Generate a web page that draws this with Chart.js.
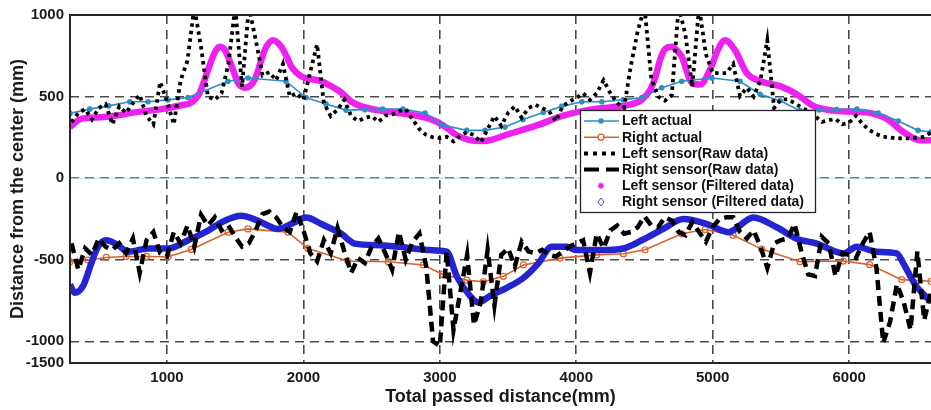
<!DOCTYPE html>
<html>
<head>
<meta charset="utf-8">
<title>Sensor distance</title>
<script src="https://cdn.jsdelivr.net/npm/chart.js@4.4.1/dist/chart.umd.min.js"></script>
<style>
  html, body { margin: 0; padding: 0; background: #fff; }
  canvas { display: block; }
</style>
</head>
<body>
<canvas id="sensorChart" width="931" height="410"></canvas>
<script>
// axis ranges and ticks
const xMin = 289, xMax = 6600;
const yMin = -1133, yMax = 1000;
const xTicks = [1000, 2000, 3000, 4000, 5000, 6000];
const yTicks = [-1133, -1000, -500, 0, 500, 1000];
const yTickLabels = ['-1500', '-1000', '-500', '0', '500', '1000'];

// measured wheel positions
const leftActualX = [289, 433, 573, 727, 861, 1007, 1154, 1447, 1594, 1872, 2019, 2165, 2312, 2450, 2581, 2730, 2891, 3023, 3197, 3331, 3478, 3610, 3757, 3893, 4040, 4187, 4343, 4480, 4626, 4773, 4993, 5200, 5347, 5494, 5640, 5780, 5909, 6056, 6212, 6360, 6505, 6600];
const leftActualY = [397, 423, 443, 468, 468, 480, 494, 594, 614, 594, 494, 455, 417, 420, 423, 423, 399, 325, 293, 293, 313, 359, 403, 440, 468, 468, 480, 494, 554, 594, 614, 594, 514, 474, 414, 418, 420, 423, 399, 350, 293, 283];

const rightActualX = [289, 421, 555, 700, 850, 1007, 1178, 1447, 1594, 1887, 2033, 2326, 2622, 2879, 3023, 3197, 3319, 3465, 3612, 3881, 4150, 4345, 4504, 4773, 4944, 5150, 5359, 5640, 5958, 6150, 6385, 6600];
const rightActualY = [-512, -502, -486, -480, -480, -482, -437, -331, -311, -331, -431, -508, -512, -532, -590, -625, -635, -602, -532, -490, -470, -463, -439, -341, -315, -350, -435, -512, -508, -530, -622, -632];

// raw sensor samples
const rawX = [
  300, 350, 400, 450, 500, 550, 600, 650, 700, 750,
  800, 850, 900, 950, 1000, 1050, 1100, 1150, 1200, 1250,
  1300, 1350, 1400, 1450, 1500, 1550, 1600, 1650, 1700, 1750,
  1800, 1850, 1900, 1950, 2000, 2050, 2100, 2150, 2200, 2250,
  2300, 2350, 2400, 2450, 2500, 2550, 2600, 2650, 2700, 2750,
  2800, 2850, 2900, 2950, 3000, 3050, 3100, 3150, 3200, 3250,
  3300, 3350, 3400, 3450, 3500, 3550, 3600, 3650, 3700, 3750,
  3800, 3850, 3900, 3950, 4000, 4050, 4100, 4150, 4200, 4250,
  4300, 4350, 4400, 4450, 4500, 4550, 4600, 4650, 4700, 4750,
  4800, 4850, 4900, 4950, 5000, 5050, 5100, 5150, 5200, 5250,
  5300, 5350, 5400, 5450, 5500, 5550, 5600, 5650, 5700, 5750,
  5800, 5850, 5900, 5950, 6000, 6050, 6100, 6150, 6200, 6250,
  6300, 6350, 6400, 6450, 6500, 6550, 6600
];
const leftRawY = [
  343, 400, 423, 360, 430, 453, 330, 440, 400, 460,
  510, 380, 330, 590, 470, 330, 600, 720, 1050, 800,
  500, 480, 520, 700, 1050, 560, 1050, 850, 630, 650,
  600, 700, 500, 520, 480, 650, 820, 460, 380, 420,
  480, 380, 350, 370, 380, 345, 383, 390, 410, 423,
  360, 300, 265, 250, 245, 253, 225, 260, 283, 263,
  220, 300, 380, 320, 400, 440, 370, 430, 450, 430,
  410, 350, 440, 470, 490, 520, 480, 520, 600, 520,
  460, 430, 690, 900, 1050, 610, 500, 475, 510, 1050,
  880, 560, 1050, 760, 644, 644, 644, 700, 503, 554,
  500, 600, 845, 430, 483, 483, 460, 433, 410, 380,
  345, 355, 363, 330, 340, 383, 330, 293, 270, 253,
  250, 243, 245, 243, 250, 253, 280
];
const rightRawY = [
  -400, -560, -430, -470, -370, -420, -440, -400, -460, -370,
  -580, -380, -330, -460, -480, -330, -400, -290, -420, -225,
  -290, -240, -320, -290, -360, -420, -400, -320, -220, -205,
  -240, -300, -330, -205, -320, -460, -510, -380, -460, -305,
  -450, -580, -490, -520, -420, -370, -460, -560, -330, -500,
  -390, -340, -540, -1000, -1030, -450, -930, -700, -470, -900,
  -760, -440, -780, -470, -430, -540, -390, -450, -460, -440,
  -470, -480, -450, -420, -400, -380, -580, -340, -430, -320,
  -290, -340, -330, -300, -235, -290, -300, -240, -260, -330,
  -350, -270, -330, -390, -300, -250, -240, -240, -330, -370,
  -320, -420, -550, -400, -380, -370, -280, -450, -590, -600,
  -360, -400, -600, -460, -470, -490, -400, -330, -550, -1010,
  -880, -650, -760, -930, -450, -870, -700
];

// filtered sensor output
const leftFiltX = [289, 370, 516, 640, 763, 958, 1105, 1178, 1240, 1301, 1350, 1386, 1420, 1447, 1490, 1520, 1570, 1643, 1690, 1716, 1777, 1838, 1880, 1911, 1984, 2131, 2200, 2278, 2350, 2415, 2562, 2757, 2928, 3025, 3124, 3221, 3319, 3514, 3710, 3905, 4125, 4370, 4480, 4541, 4580, 4614, 4650, 4700, 4740, 4773, 4846, 4907, 4980, 5040, 5090, 5163, 5249, 5347, 5494, 5616, 5738, 5885, 6000, 6129, 6276, 6397, 6520, 6600];
const leftFiltY = [313, 363, 373, 385, 403, 423, 447, 463, 524, 664, 770, 805, 790, 745, 650, 584, 554, 604, 720, 785, 845, 805, 740, 684, 624, 594, 565, 524, 470, 443, 414, 393, 363, 323, 263, 233, 227, 273, 323, 383, 423, 447, 480, 540, 620, 724, 790, 805, 780, 745, 584, 574, 664, 790, 845, 785, 644, 594, 564, 514, 443, 414, 408, 403, 363, 283, 233, 233];

const rightFiltX = [289, 323, 384, 445, 494, 555, 641, 714, 861, 1007, 1154, 1301, 1423, 1545, 1667, 1814, 1936, 2021, 2131, 2278, 2376, 2562, 2708, 2806, 2928, 3050, 3124, 3221, 3282, 3368, 3490, 3612, 3722, 3820, 3930, 4003, 4174, 4345, 4492, 4638, 4785, 4956, 5115, 5298, 5469, 5616, 5763, 5958, 6056, 6202, 6349, 6397, 6483, 6593];
const rightFiltY = [-652, -702, -662, -522, -421, -381, -411, -451, -431, -431, -381, -321, -261, -231, -261, -311, -271, -241, -281, -341, -401, -411, -421, -431, -441, -451, -602, -722, -762, -722, -672, -612, -522, -421, -421, -441, -441, -431, -376, -311, -251, -281, -331, -241, -301, -371, -401, -461, -421, -451, -461, -522, -652, -752];

// centre reference line
const centreX = [xMin, xMax];
const centreY = [0, 0];

function pairs(xs, ys) {
  return xs.map((x, i) => ({ x: x, y: ys[i] }));
}

Chart.defaults.font.family = "'Liberation Sans', Arial, sans-serif";
Chart.defaults.color = '#1a1a1a';

// black frame on left, top and bottom of the plot area
const framePlugin = {
  id: 'frame',
  afterDatasetsDraw(chart) {
    const { ctx, chartArea: a } = chart;
    ctx.save();
    ctx.strokeStyle = '#262626';
    ctx.lineWidth = 2;
    ctx.beginPath();
    ctx.moveTo(a.right + 2, a.top);
    ctx.lineTo(a.left, a.top);
    ctx.lineTo(a.left, a.bottom);
    ctx.lineTo(a.right + 2, a.bottom);
    ctx.stroke();
    ctx.restore();
  }
};

// boxed legend sitting inside the plot
const boxLegend = {
  id: 'boxLegend',
  afterDraw(chart) {
    const ctx = chart.ctx;
    const bx = 580.5, by = 110.5, bw = 235, bh = 102;
    ctx.save();
    ctx.fillStyle = '#fff';
    ctx.fillRect(bx, by, bw, bh);
    ctx.strokeStyle = '#262626';
    ctx.lineWidth = 1.3;
    ctx.strokeRect(bx, by, bw, bh);

    const items = chart.data.datasets.filter(d => d.legendKey);
    items.forEach((ds, i) => {
      const cy = 121 + i * 16.2;
      const x0 = 584, x1 = 619, xm = 601;
      ctx.save();
      if (ds.legendKey === 'line') {
        ctx.strokeStyle = ds.borderColor;
        ctx.lineWidth = ds.legendWidth;
        ctx.setLineDash(ds.legendDash || []);
        ctx.beginPath();
        ctx.moveTo(x0, cy);
        ctx.lineTo(x1, cy);
        ctx.stroke();
        ctx.setLineDash([]);
        if (ds.pointRadius > 0) {
          ctx.beginPath();
          ctx.arc(xm, cy, ds.pointRadius, 0, Math.PI * 2);
          if (ds.pointBackgroundColor !== 'rgba(0,0,0,0)') {
            ctx.fillStyle = ds.pointBackgroundColor;
            ctx.fill();
          } else {
            ctx.fillStyle = '#fff';
            ctx.fill();
            ctx.strokeStyle = ds.pointBorderColor;
            ctx.lineWidth = 1.3;
            ctx.stroke();
          }
        }
      } else if (ds.legendKey === 'star') {
        ctx.strokeStyle = ds.borderColor;
        ctx.lineWidth = 1.4;
        ctx.beginPath();
        for (let k = 0; k < 4; k++) {
          const ang = k * Math.PI / 4;
          ctx.moveTo(xm - Math.cos(ang) * 3.2, cy - Math.sin(ang) * 3.2);
          ctx.lineTo(xm + Math.cos(ang) * 3.2, cy + Math.sin(ang) * 3.2);
        }
        ctx.stroke();
      } else if (ds.legendKey === 'diamond') {
        ctx.strokeStyle = '#4a4acf';
        ctx.lineWidth = 1;
        ctx.beginPath();
        ctx.moveTo(xm, cy - 4);
        ctx.lineTo(xm + 3, cy);
        ctx.lineTo(xm, cy + 4);
        ctx.lineTo(xm - 3, cy);
        ctx.closePath();
        ctx.stroke();
      }
      ctx.restore();
      ctx.fillStyle = '#111';
      ctx.font = "bold 14px 'Liberation Sans', Arial, sans-serif";
      ctx.textAlign = 'left';
      ctx.textBaseline = 'middle';
      ctx.fillText(ds.label, 622, cy + 0.5);
    });
    ctx.restore();
  }
};

const chart = new Chart(document.getElementById('sensorChart'), {
  type: 'line',
  data: {
    datasets: [
      {
        label: 'Left actual',
        data: pairs(leftActualX, leftActualY),
        borderColor: '#2e8fc4',
        borderWidth: 1.6,
        pointRadius: 2.8,
        pointBorderWidth: 0,
        pointBackgroundColor: '#2e8fc4',
        legendKey: 'line',
        legendWidth: 1.6,
        order: 3
      },
      {
        label: 'Right actual',
        data: pairs(rightActualX, rightActualY),
        borderColor: '#d9622b',
        borderWidth: 1.6,
        pointRadius: 3,
        pointBorderWidth: 1.2,
        pointBorderColor: '#d9622b',
        pointBackgroundColor: 'rgba(0,0,0,0)',
        legendKey: 'line',
        legendWidth: 1.6,
        order: 6
      },
      {
        label: 'Left sensor(Raw data)',
        data: pairs(rawX, leftRawY),
        borderColor: '#000',
        borderWidth: 3.8,
        borderDash: [3.5, 4],
        borderCapStyle: 'butt',
        pointRadius: 0,
        legendKey: 'line',
        legendWidth: 4,
        legendDash: [4, 5],
        order: 1
      },
      {
        label: 'Right sensor(Raw data)',
        data: pairs(rawX, rightRawY),
        borderColor: '#000',
        borderWidth: 4.5,
        borderDash: [10, 6],
        borderCapStyle: 'butt',
        pointRadius: 0,
        legendKey: 'line',
        legendWidth: 4,
        legendDash: [15, 7],
        order: 0
      },
      {
        label: 'Left sensor (Filtered data)',
        data: pairs(leftFiltX, leftFiltY),
        borderColor: '#ee22ee',
        borderWidth: 6.5,
        cubicInterpolationMode: 'monotone',
        pointRadius: 0,
        legendKey: 'star',
        order: 4
      },
      {
        label: 'Right sensor (Filtered data)',
        data: pairs(rightFiltX, rightFiltY),
        borderColor: '#2424d2',
        borderWidth: 6.5,
        cubicInterpolationMode: 'monotone',
        pointRadius: 0,
        legendKey: 'diamond',
        order: 5
      },
      {
        label: 'centre',
        data: pairs(centreX, centreY),
        borderColor: '#a8d6ee',
        borderWidth: 1,
        pointRadius: 0,
        order: 10
      }
    ]
  },
  options: {
    responsive: false,
    animation: false,
    clip: 0,
    layout: { autoPadding: false, padding: { top: 10, right: 0, bottom: 0, left: 0 } },
    plugins: {
      legend: { display: false },
      tooltip: { enabled: false }
    },
    scales: {
      x: {
        type: 'linear',
        min: xMin,
        max: xMax,
        afterBuildTicks: s => { s.ticks = xTicks.map(v => ({ value: v })); },
        afterFit: s => { s.height = 47; },
        grid: { color: '#4a4a4a', lineWidth: 1.6, drawTicks: false },
        border: { display: false, dash: [9, 6] },
        ticks: {
          autoSkip: false,
          maxRotation: 0,
          padding: 6,
          color: '#1a1a1a',
          font: { size: 15, weight: 'bold' },
          callback: v => String(v)
        },
        title: {
          display: true,
          text: 'Total passed distance(mm)',
          color: '#1a1a1a',
          font: { size: 18, weight: 'bold' },
          padding: { top: 0, bottom: 2 }
        }
      },
      y: {
        type: 'linear',
        min: yMin,
        max: yMax,
        afterBuildTicks: s => { s.ticks = yTicks.map(v => ({ value: v })); },
        afterFit: s => { s.width = 70; },
        grid: {
          color: c => (c.tick && c.tick.value === yMin ? 'rgba(0,0,0,0)' : '#4a4a4a'),
          lineWidth: 1.6,
          drawTicks: false
        },
        border: { display: false, dash: [9, 6] },
        ticks: {
          autoSkip: false,
          padding: 6,
          color: '#1a1a1a',
          font: { size: 15, weight: 'bold' },
          callback: (v, i) => yTickLabels[i]
        },
        title: {
          display: true,
          text: 'Distance from the center (mm)',
          color: '#1a1a1a',
          font: { size: 18, weight: 'bold' },
          padding: { top: 7, bottom: 0 }
        }
      }
    }
  },
  plugins: [framePlugin, boxLegend]
});
</script>
</body>
</html>
